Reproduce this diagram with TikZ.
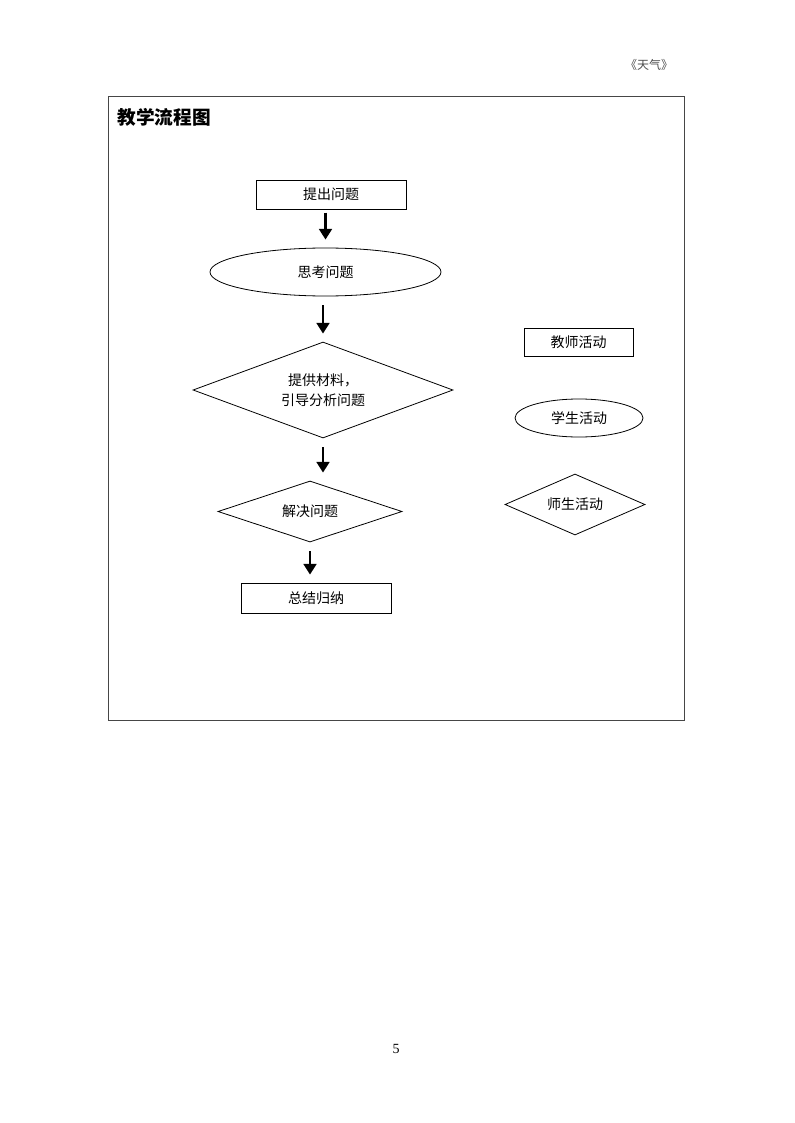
\documentclass[tikz,border=0pt]{standalone}
\usepackage{fontspec}
\usepackage{tikz}
\usetikzlibrary{arrows.meta,shapes.geometric}
\setmainfont{Liberation Serif}
\newfontfamily\cjkfont{Noto Sans CJK SC}
\definecolor{framegray}{RGB}{70,70,70}

\begin{document}
\begin{tikzpicture}[x=0.75pt,y=-0.75pt,
 every node/.style={font=\cjkfont\fontsize{10.5}{15}\selectfont,align=center,inner sep=0pt,line width=.6pt},
 rectbox/.style={draw,rectangle},
 ovalbox/.style={draw,ellipse},
 diabox/.style={draw,diamond},
 flow/.style={-{Triangle[width=9.5pt,length=8pt]},line width=2.2pt,shorten <=6.5pt,shorten >=6pt}]
\useasboundingbox (0,0) rectangle (794,1123);

% page header, frame and title
\node[font=\cjkfont\fontsize{9}{11}\selectfont,text=black!70] (head) at(649,65) {《天气》};
\draw[framegray,line width=.6pt] (108,96) rectangle (684,720);
\node[font=\cjkfont\bfseries\fontsize{14}{17}\selectfont,anchor=west] (title) at(117,117) {教学流程图};

% main flow
\node[rectbox,minimum width=112.5pt,minimum height=21.75pt] (ask) at(331,194.5) {提出问题};
\node[ovalbox,minimum width=173.25pt,minimum height=36pt] (think) at(325.5,272) {思考问题};
\node[diabox,aspect=2.71,minimum width=195pt,minimum height=72pt] (material) at(323,390) {提供材料，\\引导分析问题};
\node[diabox,aspect=3.02,minimum width=138pt,minimum height=45.75pt] (solve) at(310,511.5) {解决问题};
\node[rectbox,minimum width=112.5pt,minimum height=22.5pt] (summary) at(316,598) {总结归纳};

\draw[flow,shorten <=2.5pt] (ask.south -| think.north) -- (think.north);
\draw[flow] (think.south -| material.north) -- (material.north);
\draw[flow] (material.south) -- (material.south |- solve.north);
\draw[flow] (solve.south) -- (solve.south |- summary.north);

% legend
\node[rectbox,minimum width=81.75pt,minimum height=21pt] (teacher) at(578.5,342) {教师活动};
\node[ovalbox,minimum width=96pt,minimum height=28.5pt] (student) at(579,418) {学生活动};
\node[diabox,aspect=2.3,minimum width=105pt,minimum height=45.75pt] (both) at(575,504.5) {师生活动};

\node[font=\fontsize{10.5}{12}\selectfont] (page) at(396,1049) {5};
\end{tikzpicture}
\end{document}
